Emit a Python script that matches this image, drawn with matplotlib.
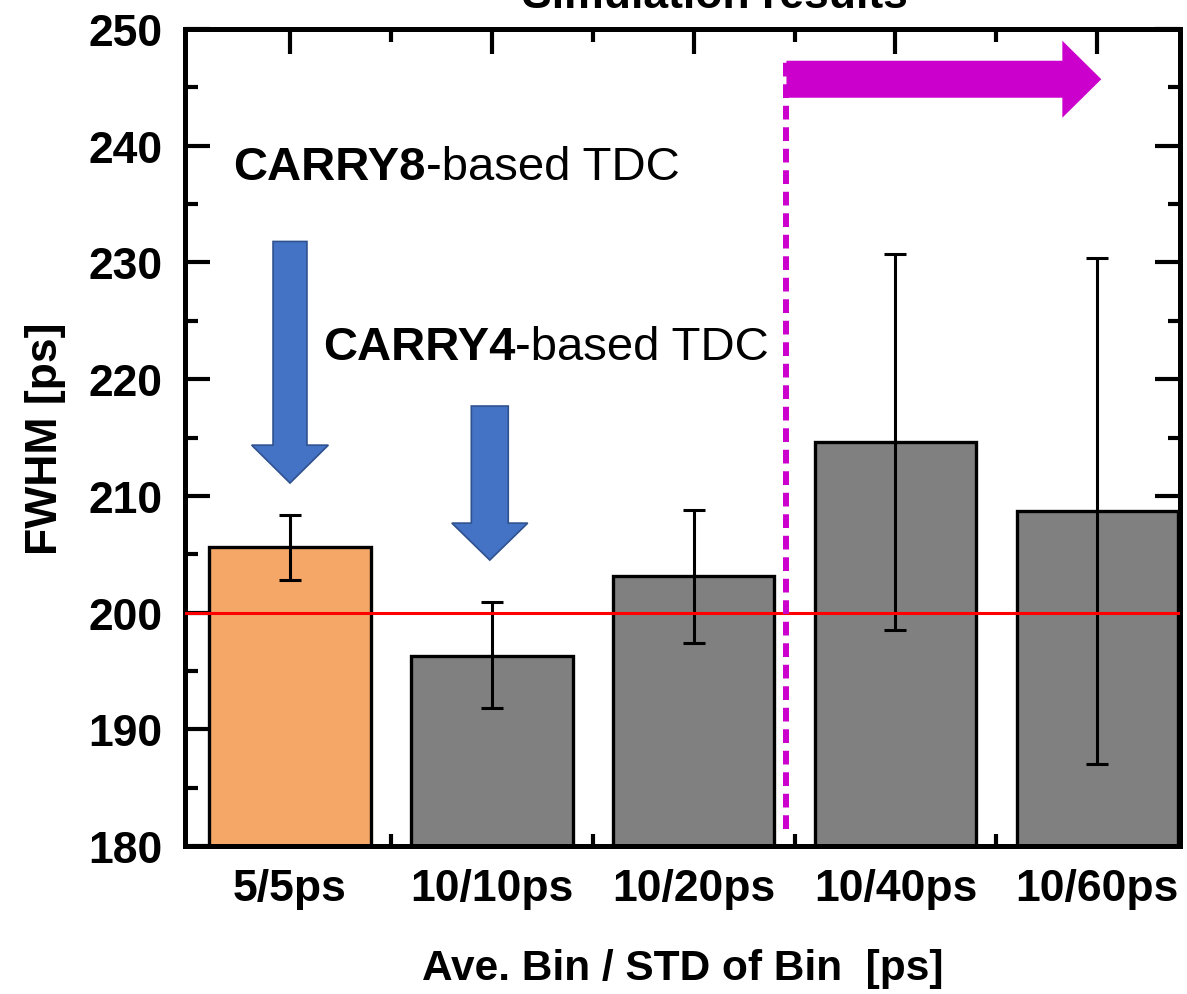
import matplotlib
matplotlib.use("Agg")
import matplotlib.pyplot as plt
from matplotlib.patches import FancyArrow
from matplotlib.ticker import MultipleLocator, FixedLocator
import numpy as np

plt.rcParams['font.family'] = ['Liberation Sans', 'DejaVu Sans']

# data
categories = ['5/5ps', '10/10ps', '10/20ps', '10/40ps', '10/60ps']
fwhm = [205.6, 196.3, 203.1, 214.6, 208.7]
err_low = [202.8, 191.8, 197.4, 198.5, 187.0]
err_high = [208.4, 200.9, 208.8, 230.7, 230.4]
bar_colors = ['#F4A766', '#808080', '#808080', '#808080', '#808080']
target = 200

x = np.arange(len(categories))
yerr = [np.array(fwhm) - np.array(err_low), np.array(err_high) - np.array(fwhm)]

fig = plt.figure(figsize=(11.87, 9.95), dpi=100)
ax = fig.add_axes([0.1559, 0.1487, 0.9941 - 0.1559, 0.9698 - 0.1487])

ax.bar(x, fwhm, width=0.8, color=bar_colors, edgecolor='black', linewidth=2.4, zorder=2)
ax.errorbar(x, fwhm, yerr=yerr, fmt='none', ecolor='black', elinewidth=2.2,
            capsize=8, capthick=2.2, zorder=3)
ax.axhline(target, color='#FF0000', linewidth=2.2, zorder=4)

ax.set_xlim(-0.52, 4.41)
ax.set_ylim(180, 250)

# blue arrows
ax.add_patch(FancyArrow(0.0, 231.8, 0, -20.7, width=0.168, head_width=0.38,
                        head_length=3.25, length_includes_head=True,
                        facecolor='#4472C4', edgecolor='#2F528F', linewidth=1.2, zorder=5))
ax.add_patch(FancyArrow(0.99, 217.7, 0, -13.2, width=0.183, head_width=0.376,
                        head_length=3.17, length_includes_head=True,
                        facecolor='#4472C4', edgecolor='#2F528F', linewidth=1.2, zorder=5))

# magenta divider and arrow
ax.plot([2.46, 2.46], [181.5, 247.2], color='#CC00CC', linewidth=4.3,
        dashes=(2.3, 1.3), zorder=5)
ax.add_patch(FancyArrow(2.46, 245.7, 1.56, 0, width=3.17, head_width=6.6,
                        head_length=0.193, length_includes_head=True,
                        facecolor='#CC00CC', edgecolor='none', zorder=5))

t1 = ax.text(-0.282, 238.2, 'CARRY8', fontsize=34, fontweight='bold', va='center', zorder=6)
ax.annotate('-based TDC', xy=(1, 0.5), xycoords=t1, fontsize=34, va='center', ha='left')
t2 = ax.text(0.163, 222.8, 'CARRY4', fontsize=34, fontweight='bold', va='center', zorder=6)
ax.annotate('-based TDC', xy=(1, 0.5), xycoords=t2, fontsize=34, va='center', ha='left')

ax.set_xticks(x)
ax.set_xticklabels(categories)
ax.xaxis.set_minor_locator(FixedLocator(x[:-1] + 0.5))
ax.yaxis.set_major_locator(MultipleLocator(10))
ax.yaxis.set_minor_locator(MultipleLocator(5))
ax.tick_params(axis='both', which='major', direction='in', length=18, width=3,
               top=True, right=True, labelsize=32, pad=16)
ax.tick_params(axis='both', which='minor', direction='in', length=9, width=3,
               top=True, right=True)
for lab in ax.get_xticklabels() + ax.get_yticklabels():
    lab.set_fontweight('bold')
for s in ax.spines.values():
    s.set_linewidth(3.6)

ax.set_ylabel('FWHM [ps]', fontsize=32, fontweight='bold', labelpad=16)
ax.set_xlabel('Ave. Bin / STD of Bin  [ps]', fontsize=30.5, fontweight='bold', labelpad=28)

fig.text(0.602, 1 - 8 / 995, 'Simulation results', fontsize=32, fontweight='bold',
         ha='center', va='baseline')

fig.savefig('out.png', dpi=100)
